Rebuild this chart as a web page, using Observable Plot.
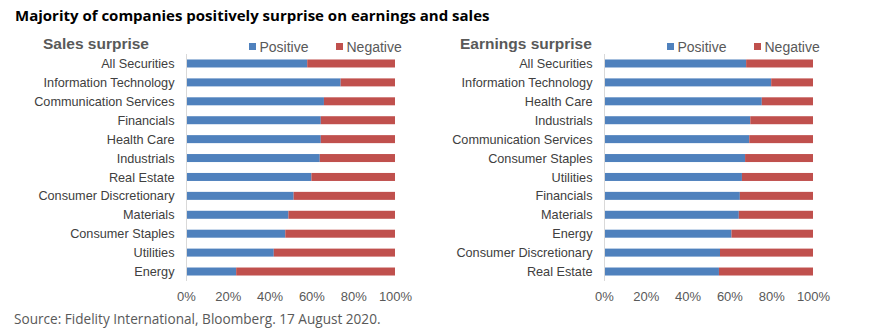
<!DOCTYPE html>
<html>
<head>
<meta charset="utf-8">
<script src="https://cdn.jsdelivr.net/npm/d3@7"></script>
<script src="https://cdn.jsdelivr.net/npm/@observablehq/plot@0.6"></script>
<style>
  html, body { margin: 0; padding: 0; background: #fff; }
  #wrap { position: relative; width: 876px; height: 331px; overflow: hidden; }
  .abs { position: absolute; white-space: nowrap; line-height: 1; }
  .title { left: 15px; top: 8px; font-family: "Open Sans", sans-serif; font-weight: 700; font-size: 15px; color: #000; }
  .sub { font-family: "Liberation Sans", Arial, sans-serif; font-weight: 700; font-size: 15.5px; color: #595959; top: 36px; }
  .leg { font-family: "Liberation Sans", Arial, sans-serif; font-size: 14px; color: #595959; top: 40px; }
  .sq { position: absolute; width: 7px; height: 7px; top: 43px; }
  .src { left: 14px; top: 312px; font-family: "Open Sans", sans-serif; font-size: 13.6px; color: #595959; }
  .chart { position: absolute; top: 44px; }
</style>
</head>
<body>
<div id="wrap">
  <div class="abs title">Majority of companies positively surprise on earnings and sales</div>
  <div class="abs src">Source: Fidelity International, Bloomberg. 17 August 2020.</div>
</div>
<script>
// ---- Data ----
const seriesNames = ["Positive", "Negative"];
const seriesColors = ["#4F81BD", "#C0504D"];
const xTicks = [0, 20, 40, 60, 80, 100];

const salesTitle = "Sales surprise";
const salesCategories = ["All Securities", "Information Technology", "Communication Services", "Financials", "Health Care", "Industrials", "Real Estate", "Consumer Discretionary", "Materials", "Consumer Staples", "Utilities", "Energy"];
const salesPositive = [58, 74, 66, 64.5, 64.5, 64, 60, 51.5, 49, 47.5, 42, 24];
const salesNegative = [42, 26, 34, 35.5, 35.5, 36, 40, 48.5, 51, 52.5, 58, 76];

const earningsTitle = "Earnings surprise";
const earningsCategories = ["All Securities", "Information Technology", "Health Care", "Industrials", "Communication Services", "Consumer Staples", "Utilities", "Financials", "Materials", "Energy", "Consumer Discretionary", "Real Estate"];
const earningsPositive = [68, 80, 75.5, 70, 69.5, 67.5, 66, 65, 64.5, 61, 55.5, 55];
const earningsNegative = [32, 20, 24.5, 30, 30.5, 32.5, 34, 35, 35.5, 39, 44.5, 45];

// ---- Build ----
const wrap = document.getElementById("wrap");

function panel(offset, title, cats, pos, neg) {
  const rows = [];
  cats.forEach((c, i) => {
    rows.push({cat: c, series: seriesNames[0], value: pos[i]});
    rows.push({cat: c, series: seriesNames[1], value: neg[i]});
  });
  const chart = Plot.plot({
    width: 418,
    height: 263,
    marginLeft: 186,
    marginRight: 23,
    marginTop: 10,
    marginBottom: 26,
    style: {fontFamily: "'Liberation Sans', Arial, sans-serif", background: "transparent", overflow: "visible"},
    x: {domain: [0, 100]},
    y: {domain: cats, paddingInner: 0.577, paddingOuter: 0.29, round: false},
    color: {domain: seriesNames, range: seriesColors},
    marks: [
      Plot.barX(rows, Plot.stackX({x: "value", y: "cat", fill: "series"})),
      Plot.ruleX([0], {stroke: "#d9d9d9", strokeWidth: 1}),
      Plot.axisY({tickSize: 0, tickPadding: 12, fontSize: 12.7, fill: "#404040", label: null}),
      Plot.axisX({ticks: xTicks, tickFormat: d => d + "%", tickSize: 0, tickPadding: 10, fontSize: 13, fill: "#595959", label: null})
    ]
  });
  chart.classList.add("chart");
  chart.style.left = offset + "px";
  wrap.appendChild(chart);

  const sub = document.createElement("div");
  sub.className = "abs sub";
  sub.textContent = title;
  sub.style.left = (offset === 0 ? 43 : offset + 42) + "px";
  wrap.appendChild(sub);

  const legX = [offset + 249, offset + 336];
  seriesNames.forEach((s, i) => {
    const sq = document.createElement("div");
    sq.className = "sq";
    sq.style.left = legX[i] + "px";
    sq.style.background = seriesColors[i];
    wrap.appendChild(sq);
    const t = document.createElement("div");
    t.className = "abs leg";
    t.textContent = s;
    t.style.left = (legX[i] + 10.5) + "px";
    wrap.appendChild(t);
  });
}

panel(0, salesTitle, salesCategories, salesPositive, salesNegative);
panel(418, earningsTitle, earningsCategories, earningsPositive, earningsNegative);
</script>
</body>
</html>
